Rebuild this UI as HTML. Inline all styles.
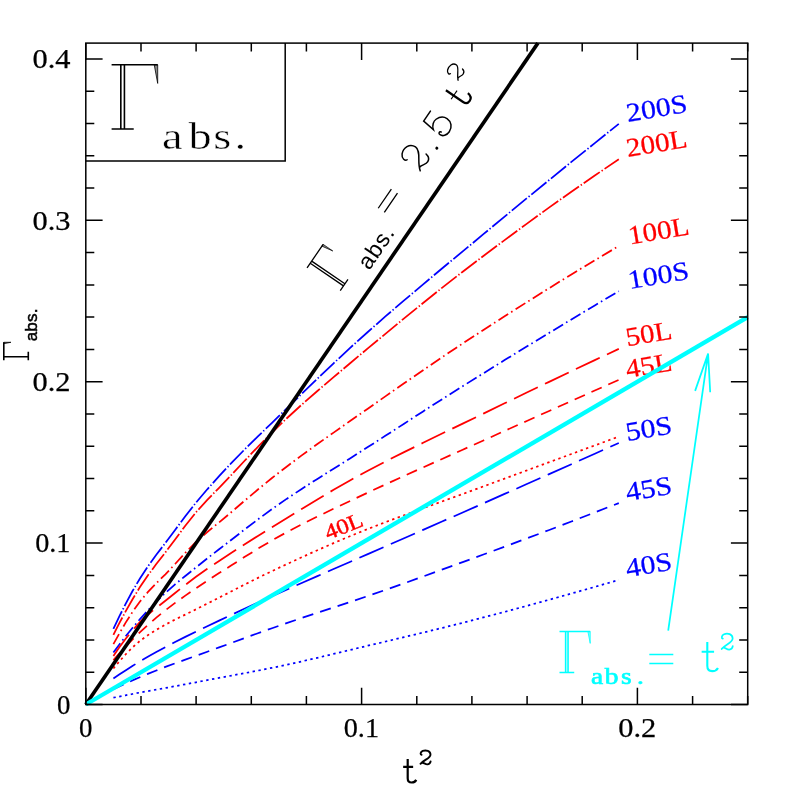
<!DOCTYPE html>
<html><head><meta charset="utf-8"><title>Gamma abs vs t^2</title>
<style>html,body{margin:0;padding:0;background:#fff}svg{display:block;will-change:transform}text{font-family:"Liberation Serif",serif}.sans{font-family:"Liberation Sans",sans-serif}.mono{font-family:"Liberation Mono",monospace}</style>
</head><body>
<svg width="789" height="789" viewBox="0 0 789 789">
<rect width="789" height="789" fill="#fff"/>
<g fill="none" stroke-width="1.75">
<path d="M113.4 628.8 L119.2 616.7 L125.5 604.1 L132.4 591.3 L139.8 578.7 L147.8 566.5 L156.3 554.8 L165.4 542.9 L175.1 529.9 L185.3 516.3 L196.0 502.6 L207.3 489.3 L219.1 476.1 L231.5 462.9 L244.4 449.7 L257.9 436.4 L272.0 422.8 L286.6 408.6 L301.7 393.9 L317.4 378.7 L333.6 363.3 L350.4 347.6 L367.8 332.0 L385.7 316.2 L404.1 300.4 L423.1 284.4 L442.6 268.0 L462.7 251.4 L483.4 234.2 L504.6 216.6 L526.3 198.7 L548.6 180.5 L571.4 161.9 L594.8 143.1 L618.8 123.9" stroke="#0000ff" stroke-dasharray="19.5 2.2 1.4 2.2"/>
<path d="M113.4 634.8 L119.2 623.4 L125.5 611.6 L132.4 599.5 L139.8 587.3 L147.8 575.5 L156.3 564.1 L165.4 552.4 L175.1 539.5 L185.3 525.7 L196.0 512.3 L207.3 499.9 L219.1 487.8 L231.5 474.8 L244.4 461.0 L257.9 446.8 L272.0 432.5 L286.6 418.5 L301.7 404.7 L317.4 391.0 L333.6 377.1 L350.4 363.0 L367.8 348.4 L385.7 333.6 L404.1 318.4 L423.1 303.0 L442.6 287.4 L462.7 271.7 L483.4 256.0 L504.6 240.1 L526.3 224.1 L548.6 207.9 L571.4 191.7 L594.8 175.5 L618.8 159.3" stroke="#ff0000" stroke-dasharray="19.5 2.2 1.4 2.2"/>
<path d="M113.4 644.1 L119.2 633.7 L125.5 622.9 L132.4 612.1 L139.8 601.7 L147.8 592.2 L156.3 583.3 L165.4 574.3 L175.1 564.0 L185.3 552.8 L196.0 541.9 L207.3 532.0 L219.1 522.4 L231.5 512.0 L244.4 500.9 L257.9 489.5 L272.0 478.0 L286.6 466.7 L301.7 455.4 L317.4 444.0 L333.6 432.6 L350.4 420.8 L367.8 408.7 L385.7 396.1 L404.1 383.3 L423.1 370.2 L442.6 356.9 L462.7 343.5 L483.4 330.0 L504.6 316.3 L526.3 302.5 L548.6 288.5 L571.4 274.4 L594.8 260.3 L618.8 246.0" stroke="#ff0000" stroke-dasharray="11.5 3.5 1.6 3.7"/>
<path d="M113.4 652.5 L119.2 644.7 L125.5 636.5 L132.4 628.0 L139.8 619.3 L147.8 610.5 L156.3 601.7 L165.4 592.9 L175.1 584.3 L185.3 576.0 L196.0 567.4 L207.3 558.4 L219.1 549.2 L231.5 539.7 L244.4 529.7 L257.9 519.4 L272.0 509.1 L286.6 498.9 L301.7 488.9 L317.4 478.9 L333.6 468.7 L350.4 458.2 L367.8 447.1 L385.7 435.6 L404.1 423.7 L423.1 411.4 L442.6 398.9 L462.7 386.2 L483.4 373.3 L504.6 360.1 L526.3 346.8 L548.6 333.2 L571.4 319.4 L594.8 305.4 L618.8 291.2" stroke="#0000ff" stroke-dasharray="11.5 3.5 1.6 3.7"/>
<path d="M113.4 655.9 L119.2 647.6 L125.5 639.0 L132.4 630.4 L139.8 622.2 L147.8 614.7 L156.3 607.8 L165.4 600.8 L175.1 593.0 L185.3 584.9 L196.0 576.8 L207.3 568.8 L219.1 561.0 L231.5 552.8 L244.4 544.5 L257.9 535.9 L272.0 527.2 L286.6 518.2 L301.7 508.9 L317.4 499.4 L333.6 489.8 L350.4 480.2 L367.8 470.7 L385.7 461.4 L404.1 452.1 L423.1 442.8 L442.6 433.3 L462.7 423.6 L483.4 413.6 L504.6 403.3 L526.3 392.8 L548.6 382.1 L571.4 371.2 L594.8 360.1 L618.8 348.9" stroke="#ff0000" stroke-dasharray="26.3 8"/>
<path d="M113.4 660.1 L119.2 653.6 L125.5 646.7 L132.4 639.6 L139.8 632.3 L147.8 625.0 L156.3 617.6 L165.4 610.3 L175.1 602.9 L185.3 595.6 L196.0 588.2 L207.3 580.7 L219.1 573.1 L231.5 565.3 L244.4 557.1 L257.9 548.7 L272.0 540.4 L286.6 532.3 L301.7 524.4 L317.4 516.6 L333.6 508.7 L350.4 500.8 L367.8 492.6 L385.7 484.3 L404.1 475.9 L423.1 467.4 L442.6 458.7 L462.7 449.7 L483.4 440.5 L504.6 430.9 L526.3 421.2 L548.6 411.2 L571.4 401.0 L594.8 390.5 L618.8 379.9" stroke="#ff0000" stroke-dasharray="11.2 7.2"/>
<path d="M113.4 668.5 L119.2 661.6 L125.5 654.5 L132.4 647.5 L139.8 641.0 L147.8 635.2 L156.3 629.8 L165.4 624.7 L175.1 619.5 L185.3 614.6 L196.0 609.3 L207.3 603.6 L219.1 597.6 L231.5 591.3 L244.4 584.7 L257.9 577.9 L272.0 571.1 L286.6 564.2 L301.7 557.3 L317.4 550.2 L333.6 543.1 L350.4 536.0 L367.8 529.0 L385.7 522.1 L404.1 515.2 L423.1 508.3 L442.6 501.3 L462.7 494.0 L483.4 486.4 L504.6 478.6 L526.3 470.6 L548.6 462.4 L571.4 454.0 L594.8 445.4 L618.8 436.6" stroke="#ff0000" stroke-dasharray="2.4 3.5"/>
<path d="M113.4 678.5 L119.2 674.6 L125.5 670.4 L132.4 666.0 L139.8 661.4 L147.8 656.8 L156.3 652.0 L165.4 647.1 L175.1 642.0 L185.3 636.9 L196.0 631.6 L207.3 626.2 L219.1 620.6 L231.5 614.8 L244.4 608.8 L257.9 602.6 L272.0 596.2 L286.6 589.7 L301.7 583.0 L317.4 576.1 L333.6 569.0 L350.4 561.7 L367.8 554.1 L385.7 546.3 L404.1 538.2 L423.1 529.9 L442.6 521.3 L462.7 512.5 L483.4 503.3 L504.6 493.9 L526.3 484.3 L548.6 474.4 L571.4 464.2 L594.8 453.7 L618.8 443.0" stroke="#0000ff" stroke-dasharray="26.3 8"/>
<path d="M113.4 689.2 L119.2 686.4 L125.5 683.5 L132.4 680.4 L139.8 677.2 L147.8 673.9 L156.3 670.5 L165.4 666.9 L175.1 663.3 L185.3 659.7 L196.0 655.8 L207.3 651.7 L219.1 647.4 L231.5 642.9 L244.4 638.2 L257.9 633.2 L272.0 628.2 L286.6 623.1 L301.7 618.0 L317.4 612.8 L333.6 607.5 L350.4 601.9 L367.8 596.0 L385.7 589.8 L404.1 583.3 L423.1 576.5 L442.6 569.4 L462.7 562.1 L483.4 554.5 L504.6 546.7 L526.3 538.6 L548.6 530.2 L571.4 521.5 L594.8 512.4 L618.8 503.1" stroke="#0000ff" stroke-dasharray="11.2 7.2"/>
<path d="M113.4 697.7 L119.2 696.6 L125.5 695.3 L132.4 694.0 L139.8 692.6 L147.8 691.1 L156.3 689.6 L165.4 688.0 L175.1 686.2 L185.3 684.3 L196.0 682.3 L207.3 680.1 L219.1 677.9 L231.5 675.6 L244.4 673.2 L257.9 670.6 L272.0 667.8 L286.6 664.8 L301.7 661.4 L317.4 657.8 L333.6 653.9 L350.4 649.9 L367.8 645.7 L385.7 641.5 L404.1 637.1 L423.1 632.6 L442.6 627.8 L462.7 622.8 L483.4 617.4 L504.6 611.9 L526.3 606.0 L548.6 599.9 L571.4 593.5 L594.8 586.9 L618.8 579.9" stroke="#0000ff" stroke-dasharray="2.4 3.5"/>
</g>
<text transform="translate(627.7 122.0) rotate(-9.5)" font-size="26.5" fill="#0000ff" textLength="61.5" lengthAdjust="spacingAndGlyphs" stroke="#0000ff" stroke-width="0.25">200S</text>
<text transform="translate(627.7 157.0) rotate(-9.5)" font-size="26.5" fill="#ff0000" textLength="61.5" lengthAdjust="spacingAndGlyphs" stroke="#ff0000" stroke-width="0.25">200L</text>
<text transform="translate(629.7 244.5) rotate(-9.5)" font-size="26.5" fill="#ff0000" textLength="61.5" lengthAdjust="spacingAndGlyphs" stroke="#ff0000" stroke-width="0.25">100L</text>
<text transform="translate(629.5 289.0) rotate(-9.5)" font-size="26.5" fill="#0000ff" textLength="61.5" lengthAdjust="spacingAndGlyphs" stroke="#0000ff" stroke-width="0.25">100S</text>
<text transform="translate(627.2 346.2) rotate(-9.5)" font-size="26.5" fill="#ff0000" textLength="46.5" lengthAdjust="spacingAndGlyphs" stroke="#ff0000" stroke-width="0.25">50L</text>
<text transform="translate(627.2 377.9) rotate(-9.5)" font-size="26.5" fill="#ff0000" textLength="46.5" lengthAdjust="spacingAndGlyphs" stroke="#ff0000" stroke-width="0.25">45L</text>
<text transform="translate(627.2 441.0) rotate(-9.5)" font-size="26.5" fill="#0000ff" textLength="46.5" lengthAdjust="spacingAndGlyphs" stroke="#0000ff" stroke-width="0.25">50S</text>
<text transform="translate(627.2 501.1) rotate(-9.5)" font-size="26.5" fill="#0000ff" textLength="46.5" lengthAdjust="spacingAndGlyphs" stroke="#0000ff" stroke-width="0.25">45S</text>
<text transform="translate(627.2 577.2) rotate(-9.5)" font-size="26.5" fill="#0000ff" textLength="46.5" lengthAdjust="spacingAndGlyphs" stroke="#0000ff" stroke-width="0.25">40S</text>
<text transform="translate(328.0 540.0) rotate(-21.7)" font-size="21.5" fill="#ff0000" textLength="39.5" lengthAdjust="spacingAndGlyphs" stroke="#ff0000" stroke-width="0.4">40L</text>
<path d="M85.8 704.5 L537.9 43.1" stroke="#000" stroke-width="3.65" fill="none"/>
<path d="M85.8 704.5 L747.7 317.1" stroke="#00ffff" stroke-width="4.3" fill="none"/>
<g stroke="#000" stroke-width="1.5" fill="none">
<rect x="85.8" y="43.1" width="661.9" height="661.4"/>
<path d="M85.8 704.5 v-16.8 M85.8 43.1 v16.8 M141.0 704.5 v-8.5 M141.0 43.1 v8.5 M196.1 704.5 v-8.5 M196.1 43.1 v8.5 M251.3 704.5 v-8.5 M251.3 43.1 v8.5 M306.4 704.5 v-8.5 M306.4 43.1 v8.5 M361.6 704.5 v-16.8 M361.6 43.1 v16.8 M416.8 704.5 v-8.5 M416.8 43.1 v8.5 M471.9 704.5 v-8.5 M471.9 43.1 v8.5 M527.1 704.5 v-8.5 M527.1 43.1 v8.5 M582.2 704.5 v-8.5 M582.2 43.1 v8.5 M637.4 704.5 v-16.8 M637.4 43.1 v16.8 M692.6 704.5 v-8.5 M692.6 43.1 v8.5 M747.7 704.5 v-8.5 M747.7 43.1 v8.5 M85.8 704.5 h16.8 M747.7 704.5 h-16.8 M85.8 672.2 h8.5 M747.7 672.2 h-8.5 M85.8 639.9 h8.5 M747.7 639.9 h-8.5 M85.8 607.7 h8.5 M747.7 607.7 h-8.5 M85.8 575.4 h8.5 M747.7 575.4 h-8.5 M85.8 543.1 h16.8 M747.7 543.1 h-16.8 M85.8 510.8 h8.5 M747.7 510.8 h-8.5 M85.8 478.5 h8.5 M747.7 478.5 h-8.5 M85.8 446.3 h8.5 M747.7 446.3 h-8.5 M85.8 414.0 h8.5 M747.7 414.0 h-8.5 M85.8 381.7 h16.8 M747.7 381.7 h-16.8 M85.8 349.4 h8.5 M747.7 349.4 h-8.5 M85.8 317.1 h8.5 M747.7 317.1 h-8.5 M85.8 284.9 h8.5 M747.7 284.9 h-8.5 M85.8 252.6 h8.5 M747.7 252.6 h-8.5 M85.8 220.3 h16.8 M747.7 220.3 h-16.8 M85.8 188.0 h8.5 M747.7 188.0 h-8.5 M85.8 155.7 h8.5 M747.7 155.7 h-8.5 M85.8 123.5 h8.5 M747.7 123.5 h-8.5 M85.8 91.2 h8.5 M747.7 91.2 h-8.5 M85.8 58.9 h16.8 M747.7 58.9 h-16.8"/>
<path d="M85.8 161.1 H285.2 V43.1"/>
</g>
<g font-size="26.8" fill="#000" stroke="#000" stroke-width="0.25">
<text x="70.5" y="713.8" text-anchor="end" textLength="13.4" lengthAdjust="spacingAndGlyphs">0</text>
<text x="70.5" y="552.4" text-anchor="end" textLength="35.3" lengthAdjust="spacingAndGlyphs">0.1</text>
<text x="70.5" y="391.0" text-anchor="end" textLength="38.0" lengthAdjust="spacingAndGlyphs">0.2</text>
<text x="70.5" y="229.6" text-anchor="end" textLength="38.0" lengthAdjust="spacingAndGlyphs">0.3</text>
<text x="70.5" y="68.2" text-anchor="end" textLength="38.0" lengthAdjust="spacingAndGlyphs">0.4</text>
<text x="85.6" y="737.0" text-anchor="middle" textLength="13.4" lengthAdjust="spacingAndGlyphs">0</text>
<text x="361.4" y="737.0" text-anchor="middle" textLength="35.3" lengthAdjust="spacingAndGlyphs">0.1</text>
<text x="637.2" y="737.0" text-anchor="middle" textLength="38.0" lengthAdjust="spacingAndGlyphs">0.2</text>
</g>
<g transform="translate(111.6 129.0)"><path d="M0 -64.20 H46.10 M9.22 -64.20 V0 M12.82 -64.20 V0 M0 0 H22.13" stroke="#000" stroke-width="1.60" fill="none"/><path d="M42.64 -64.20 L46.10 -64.20 L46.10 -45.58 Z" fill="#000" fill-opacity="0.45" stroke="#000" stroke-width="0.80" stroke-linejoin="miter"/></g>
<g transform="translate(0 149) scale(1.22 1)"><text x="132.87 154.59 174.84 192.3" y="0" font-size="38" fill="#000" stroke="#fff" stroke-width="0.45">abs.</text></g>
<g transform="translate(28.3 360.3) rotate(-90)"><path d="M0 -24.50 H18.00 M3.60 -24.50 V0 M3.60 -24.50 V0 M0 0 H8.64" stroke="#000" stroke-width="1.60" fill="none"/><path d="M16.65 -24.50 L18.00 -24.50 L18.00 -17.39 Z" fill="#000" fill-opacity="0.45" stroke="#000" stroke-width="0.80" stroke-linejoin="miter"/><text class="sans" x="19.0" y="9.1" font-size="17" letter-spacing="0.2" stroke="#000" stroke-width="0.5">abs.</text></g>
<path d="M407.70 759.00 V778.16 C407.70 781.79 409.31 782.49 411.63 782.49 C413.75 782.49 415.36 781.59 416.27 779.87 M403.16 766.86 H413.14" stroke="#000" stroke-width="2.20" fill="none" stroke-linecap="butt"/>
<path d="M421.58 754.86 C420.20 754.58 420.20 752.13 422.74 750.98 C426.03 749.68 430.48 750.98 430.48 754.72 C430.48 758.46 423.91 759.62 420.52 763.79 C422.53 760.48 424.65 764.66 427.41 764.37 C429.21 764.22 430.27 763.36 430.59 761.34" stroke="#000" stroke-width="1.90" fill="none" stroke-linejoin="round" stroke-linecap="round"/>
<g transform="translate(341.07 291.14) rotate(-55.65)">
<g transform="translate(0 -1)"><path d="M0 -40.20 H28.50 M5.70 -40.20 V0 M8.20 -40.20 V0 M0 0 H13.68" stroke="#000" stroke-width="1.30" fill="none"/><path d="M26.36 -40.20 L28.50 -40.20 L28.50 -28.54 Z" fill="#000" fill-opacity="0.45" stroke="#000" stroke-width="0.65" stroke-linejoin="miter"/></g>
<text class="sans" x="32.5" y="12" font-size="23" letter-spacing="0.9" fill="#000">abs.</text>
<path d="M89.4 -16.1 H112.7 M89.4 -8.7 H112.7" stroke="#000" stroke-width="1.3"/>
<path d="M145.77 -19.64 C143.40 -20.20 143.40 -24.89 147.77 -27.10 C153.41 -29.58 161.05 -27.10 161.05 -19.92 C161.05 -12.74 149.77 -10.54 143.95 -2.53 C147.40 -8.88 151.04 -0.88 155.78 -1.43 C158.87 -1.70 160.69 -3.36 161.24 -7.22" stroke="#000" stroke-width="1.50" fill="none" stroke-linejoin="round" stroke-linecap="round"/>
<circle cx="172.1" cy="-1.6" r="1.5" fill="#000"/>
<path d="M199.03 -27.80 L187.06 -27.80 L185.48 -15.02 C188.12 -18.55 192.52 -19.64 195.51 -18.55 C199.74 -16.92 202.20 -13.66 202.20 -9.85 C202.20 -4.41 197.98 -0.60 192.70 -0.60 C188.12 -0.60 184.95 -3.32 184.95 -6.58 C184.95 -8.76 187.42 -9.30 187.94 -7.13" stroke="#000" stroke-width="1.50" fill="none" stroke-linejoin="miter" stroke-linecap="round"/>
<path d="M225.00 -26.80 V-6.00 C225.00 -2.00 227.00 -1.10 229.60 -1.10 C232.40 -1.10 234.60 -3.00 235.00 -7.00" stroke="#000" stroke-width="2.2" fill="none"/><path d="M220.50 -17.40 H231.00" stroke="#000" stroke-width="1.1" fill="none"/>
<path d="M241.32 -32.45 C239.70 -32.77 239.70 -35.54 242.70 -36.85 C246.57 -38.31 251.82 -36.85 251.82 -32.61 C251.82 -28.37 244.07 -27.07 240.07 -22.34 C242.45 -26.09 244.95 -21.36 248.20 -21.69 C250.32 -21.85 251.57 -22.83 251.95 -25.11" stroke="#000" stroke-width="1.30" fill="none" stroke-linejoin="round" stroke-linecap="round"/>
</g>
<g transform="translate(559.5 672.5)"><path d="M0 -41.00 H30.70 M6.14 -41.00 V0 M8.54 -41.00 V0 M0 0 H14.74" stroke="#00ffff" stroke-width="1.60" fill="none"/><path d="M28.40 -41.00 L30.70 -41.00 L30.70 -29.11 Z" fill="#00ffff" fill-opacity="0.45" stroke="#00ffff" stroke-width="0.80" stroke-linejoin="miter"/></g>
<g transform="translate(0 683.7) scale(1.22 1)"><text x="484.4 495.66 509.0 522.2" y="0" font-size="22.5" fill="#00ffff" stroke="#00ffff" stroke-width="0.6">abs.</text></g>
<path d="M649.3 654.4 h24 M649.3 663.6 h24" stroke="#00ffff" stroke-width="1.5"/>
<path d="M707.30 641.90 V665.77 C707.30 670.29 709.31 671.17 712.20 671.17 C714.84 671.17 716.85 670.04 717.98 667.90 M701.65 651.70 H714.08" stroke="#00ffff" stroke-width="2.10" fill="none" stroke-linecap="butt"/>
<path d="M722.82 638.68 C721.30 638.34 721.30 635.50 724.11 634.17 C727.73 632.66 732.65 634.17 732.65 638.51 C732.65 642.85 725.39 644.19 721.65 649.03 C723.87 645.19 726.21 650.03 729.26 649.70 C731.25 649.53 732.41 648.53 732.77 646.19" stroke="#00ffff" stroke-width="1.70" fill="none" stroke-linejoin="round" stroke-linecap="round"/>
<path d="M668.2 630.7 L708.1 353.6 M695.1 390.9 L708.1 353.6 L710.2 392.2" stroke="#00ffff" stroke-width="1.75" stroke-linejoin="bevel" fill="none"/>
</svg></body></html>
